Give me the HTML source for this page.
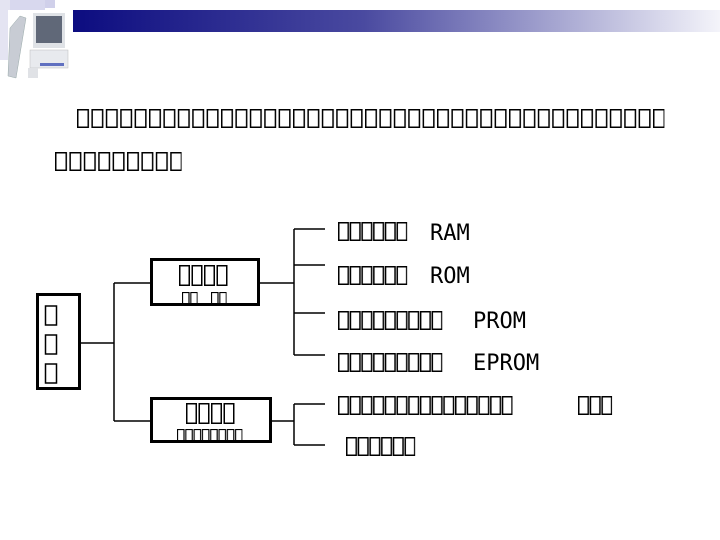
<!DOCTYPE html>
<html><head><meta charset="utf-8"><style>
html,body{margin:0;padding:0;background:#fff;}
body{width:720px;height:540px;overflow:hidden;position:relative;}
</style></head><body>
<svg width="720" height="540" viewBox="0 0 720 540" xmlns="http://www.w3.org/2000/svg" style="position:absolute;left:0;top:0">
<defs>
<linearGradient id="bar" x1="0" x2="1" y1="0" y2="0">
<stop offset="0" stop-color="#0c0c80"/><stop offset="0.45" stop-color="#4a4aa0"/><stop offset="1" stop-color="#f4f4fa"/>
</linearGradient>
<pattern id="pA" patternUnits="userSpaceOnUse" width="14.4" height="20"><rect x="0.75" y="0.75" width="10.5" height="17.5" fill="none" stroke="#000" stroke-width="1.5"/></pattern>
<pattern id="pB" patternUnits="userSpaceOnUse" width="11.7" height="20"><rect x="0.75" y="0.75" width="9.5" height="17.5" fill="none" stroke="#000" stroke-width="1.5"/></pattern>
<pattern id="pC" patternUnits="userSpaceOnUse" width="12.5" height="21"><rect x="0.75" y="0.75" width="9.5" height="19.5" fill="none" stroke="#000" stroke-width="1.5"/></pattern>
<pattern id="pD" patternUnits="userSpaceOnUse" width="8.3" height="14"><rect x="0.5" y="0.5" width="6.5" height="13" fill="none" stroke="#000" stroke-width="1.2"/></pattern>
</defs>
<!-- header -->
<rect x="0" y="0" width="45" height="40" fill="#d8d8ee"/>
<rect x="0" y="0" width="10" height="60" fill="#e4e4f2"/>
<rect x="45" y="0" width="10" height="8" fill="#d0d0ea"/>
<rect x="73" y="10" width="647" height="22" fill="url(#bar)"/>
<!-- computer -->
<rect x="8" y="10" width="60" height="72" fill="#fff"/>
<polygon points="10,28 20,16 26,18 16,78 8,76" fill="#c8ccd4" stroke="#9aa" stroke-width="0.5"/>
<rect x="33" y="13" width="32" height="35" fill="#dfe2e6"/>
<rect x="36" y="16" width="26" height="27" fill="#606878"/>
<rect x="30" y="50" width="38" height="18" fill="#e8eaee" stroke="#bbb" stroke-width="0.5"/>
<rect x="40" y="63" width="24" height="3" fill="#6070c0"/>
<rect x="28" y="68" width="10" height="10" fill="#e0e2e6"/>
<!-- paragraph -->
<g transform="translate(77,109)"><rect width="587.4" height="19" fill="url(#pA)"/></g>
<g transform="translate(55,152)"><rect width="126.6" height="19" fill="url(#pA)"/></g>
<!-- diagram lines -->
<g stroke="#000" stroke-width="1.5" fill="none">
<rect x="37.5" y="294.5" width="42" height="94" stroke-width="3"/>
<rect x="151.5" y="259.5" width="107" height="45" stroke-width="3"/>
<rect x="151.5" y="398.5" width="119" height="43" stroke-width="3"/>
<path d="M80 343H114M114 283V421M114 283H151M114 421H151"/>
<path d="M259 283H294M294 229V355M294 229H325M294 265H325M294 313H325M294 355H325"/>
<path d="M271 421H294M294 404V445M294 404H325M294 445H325"/>
</g>
<!-- left box chars -->
<g fill="none" stroke="#000" stroke-width="1.5">
<rect x="45.5" y="306" width="11" height="19"/>
<rect x="45.5" y="335" width="11" height="19"/>
<rect x="45.5" y="364" width="11" height="19"/>
</g>
<!-- box labels -->
<g transform="translate(179,265)"><rect width="48.5" height="21" fill="url(#pC)"/></g>
<g transform="translate(182,292)"><rect width="15.6" height="13" fill="url(#pD)"/></g>
<g transform="translate(211,292)"><rect width="15.6" height="13" fill="url(#pD)"/></g>
<g transform="translate(186,403)"><rect width="48.5" height="21" fill="url(#pC)"/></g>
<g transform="translate(177,429)"><rect width="65.4" height="13" fill="url(#pD)"/></g>
<!-- right labels -->
<g transform="translate(338,222)"><rect width="69.2" height="19" fill="url(#pB)"/></g>
<g transform="translate(338,266)"><rect width="69.2" height="19" fill="url(#pB)"/></g>
<g transform="translate(338,311)"><rect width="104.3" height="19" fill="url(#pB)"/></g>
<g transform="translate(338,353)"><rect width="104.3" height="19" fill="url(#pB)"/></g>
<g transform="translate(338,396)"><rect width="174.5" height="19" fill="url(#pB)"/></g>
<g transform="translate(578,396)"><rect width="34.1" height="19" fill="url(#pB)"/></g>
<g transform="translate(346,437)"><rect width="69.2" height="19" fill="url(#pB)"/></g>
<g font-family="DejaVu Sans Mono, Liberation Mono, monospace" font-size="22" fill="#000">
<text x="430" y="240">RAM</text>
<text x="430" y="283">ROM</text>
<text x="473" y="328">PROM</text>
<text x="473" y="370">EPROM</text>
</g>
</svg>
</body></html>
